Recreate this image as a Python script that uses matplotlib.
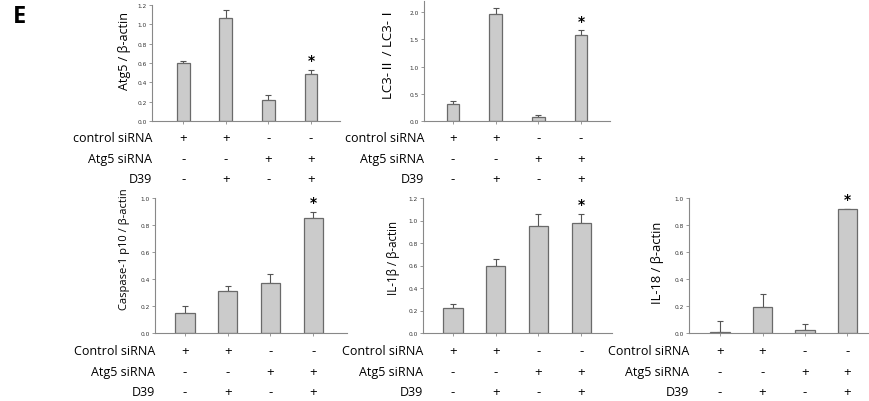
import numpy as np
import matplotlib
matplotlib.use("Agg")
import matplotlib.pyplot as plt
import matplotlib.transforms as mtrans

plt.rcParams['font.family'] = ['Open Sans', 'Noto Sans CJK KR', 'DejaVu Sans']

# data
atg5 = [0.60, 1.07, 0.22, 0.49]
atg5_err = [0.02, 0.08, 0.05, 0.04]
lc3 = [0.31, 1.97, 0.07, 1.58]
lc3_err = [0.05, 0.10, 0.04, 0.09]
casp = [0.15, 0.31, 0.37, 0.85]
casp_err = [0.05, 0.04, 0.065, 0.045]
il1b = [0.22, 0.60, 0.95, 0.98]
il1b_err = [0.04, 0.06, 0.11, 0.08]
il18 = [0.01, 0.19, 0.02, 0.92]
il18_err = [0.08, 0.10, 0.05, 0.0]

control = ['+', '+', '-', '-']
atg5_si = ['-', '-', '+', '+']
d39 = ['-', '+', '-', '+']

W, H = 870, 402
fig = plt.figure(figsize=(W / 100, H / 100), dpi=100)

def px(x0, y_top, x1, y_bot):
    return [x0 / W, 1 - y_bot / H, (x1 - x0) / W, (y_bot - y_top) / H]

def panel(rect, vals, errs, ylabel, lab_fs, ylim, yticks, xlim, barw, lab_xy, ctrl_name, rows_y):
    ax = fig.add_axes(px(*rect))
    x = np.arange(len(vals))
    ax.bar(x, vals, width=barw, color='#cbcbcb', edgecolor='#6a6a6a', linewidth=0.9, zorder=2)
    ax.errorbar(x, vals, yerr=[np.zeros(len(vals)), errs], fmt='none', ecolor='#555555',
                elinewidth=0.8, capsize=2.5, capthick=0.8, zorder=1)
    ax.set_xlim(*xlim)
    ax.set_ylim(*ylim)
    ax.set_yticks(yticks)
    ax.set_yticklabels(['%.1f' % t for t in yticks], family='DejaVu Sans')
    ax.set_xticks(x)
    ax.set_xticklabels([])
    for s in ['top', 'right']:
        ax.spines[s].set_visible(False)
    for s in ['left', 'bottom']:
        ax.spines[s].set_color('#888888')
        ax.spines[s].set_linewidth(0.8)
    ax.tick_params(axis='both', direction='out', length=2, width=0.6, colors='#888888',
                   labelsize=4.2, labelcolor='#333333', pad=1.5)
    ax.set_ylabel(ylabel, fontsize=lab_fs)
    ax.yaxis.set_label_coords(*lab_xy)
    # significance star on last bar
    ax.text(x[-1], vals[-1] + errs[-1] + (ylim[1] - ylim[0]) * 0.02, '*', ha='center',
            va='bottom', fontsize=10, fontweight='bold', family='DejaVu Sans')
    # condition table
    tr = mtrans.blended_transform_factory(ax.transData, fig.transFigure)
    trl = mtrans.blended_transform_factory(ax.transAxes, fig.transFigure)
    names = [ctrl_name, 'Atg5 siRNA', 'D39']
    for name, signs, yy in zip(names, [control, atg5_si, d39], rows_y):
        ax.text(0.0, 1 - yy / H, name, transform=trl, ha='right', va='center', fontsize=9)
        for xi, sg in zip(x, signs):
            ax.text(xi, 1 - yy / H, sg, transform=tr, ha='center', va='center', fontsize=9.5)
    return ax

top_rows = [139, 160, 180]
bot_rows = [352, 373, 393]

panel((152, 6, 340, 122), atg5, atg5_err, 'Atg5 / β-actin', 9, (0, 1.2),
      [0, 0.2, 0.4, 0.6, 0.8, 1.0, 1.2], (-0.73, 3.68), 0.30, (-0.11, 0.61),
      'control siRNA', top_rows)
panel((424, 2.3, 610, 122), lc3, lc3_err, 'LC3-Ⅱ / LC3-Ⅰ', 9.5, (0, 2.2),
      [0, 0.5, 1.0, 1.5, 2.0], (-0.68, 3.68), 0.30, (-0.155, 0.58),
      'control siRNA', top_rows)
panel((155, 199, 347, 334), casp, casp_err, 'Caspase-1 p10 / β-actin', 8, (0, 1.0),
      [0, 0.2, 0.4, 0.6, 0.8, 1.0], (-0.70, 3.79), 0.45, (-0.13, 0.63),
      'Control siRNA', bot_rows)
panel((423, 199, 612, 334), il1b, il1b_err, 'IL-1β / β-actin', 8.3, (0, 1.2),
      [0, 0.2, 0.4, 0.6, 0.8, 1.0, 1.2], (-0.70, 3.72), 0.45, (-0.12, 0.56),
      'Control siRNA', bot_rows)
panel((689, 199, 870, 334), il18, il18_err, 'IL-18 / β-actin', 9.3, (0, 1.0),
      [0, 0.2, 0.4, 0.6, 0.8, 1.0], (-0.73, 3.53), 0.45, (-0.14, 0.53),
      'Control siRNA', bot_rows)

fig.text(13 / W, 1 - 17 / H, 'E', fontsize=17, fontweight='bold', ha='left', va='center')

fig.savefig('out.png', dpi=100)
